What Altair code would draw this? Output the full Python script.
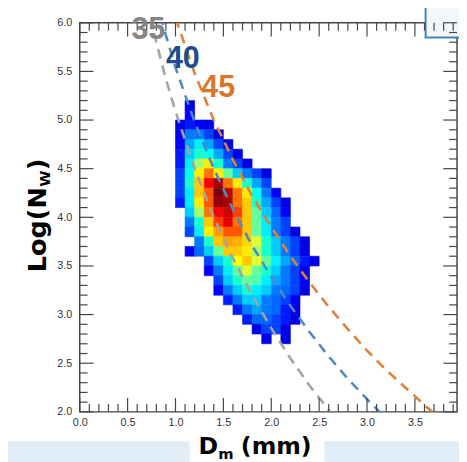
import altair as alt
import pandas as pd

# ---------------- data ----------------
# 2-D histogram: rows of 0.1 log-unit bins, columns of 0.1 mm bins
row_lo = [5.1, 5.0, 4.9, 4.8, 4.7, 4.6, 4.5, 4.4, 4.3, 4.2, 4.1, 4.0, 3.9,
          3.8, 3.7, 3.6, 3.5, 3.4, 3.3, 3.2, 3.1, 3.0, 2.9, 2.8, 2.7]
row_dm_start = [1.1, 1.1, 1.0, 1.0, 1.0, 1.0, 1.0, 1.0, 1.0, 1.0, 1.0, 1.1, 1.1,
                1.1, 1.2, 1.1, 1.3, 1.3, 1.4, 1.4, 1.5, 1.6, 1.7, 1.8, 1.9]
row_counts = [
    [1],
    [1.2],
    [1, 1.3, 1.2, 1],
    [1.2, 2, 2, 1.5, 1],
    [1.2, 2.5, 3.5, 2.5, 1.5, 1],
    [1.3, 3, 4.5, 4, 2.5, 1.5, 1],
    [1.3, 3.5, 5.5, 6.5, 4.5, 2, 1.5, 1],
    [1.5, 4, 6.5, 8, 6.5, 5, 3, 2, 1.5, 1],
    [1.5, 4.5, 7, 8.8, 9.6, 8, 6.5, 4.5, 2.5, 1.5],
    [1.5, 3.5, 7, 8.3, 10, 9.4, 8, 6.5, 4, 2, 1.2],
    [1.3, 3.5, 6.5, 8.3, 9.8, 9.6, 8, 7, 4.5, 2.5, 1.5, 1],
    [3, 5.5, 8, 8.8, 9.2, 8.5, 7, 5, 3, 1.8, 1.2],
    [2, 4.5, 7, 8.5, 9, 8, 7, 5, 3.5, 2, 1.5],
    [1.5, 3.5, 6.5, 7.5, 8.3, 8.3, 7, 5, 3.5, 2, 1.5, 1],
    [2, 4.5, 7, 7.5, 7.3, 6.8, 6, 4.5, 3, 2, 1.5, 1],
    [1.2, 1.8, 3, 5, 7, 7, 6.5, 5.5, 4.5, 3, 2, 1.5, 1],
    [1.5, 3, 4.5, 6.3, 7, 6, 5, 3.5, 2.5, 1.8, 1.3, 1],
    [1.2, 2, 3.5, 5, 6, 5, 4.5, 3, 2, 1.5, 1.2],
    [1.5, 3, 4.5, 5, 4.8, 3.5, 2.5, 2, 1.5, 1.2],
    [1.2, 2, 3, 4.5, 3.5, 3, 2, 1.8, 1.5, 1],
    [1.3, 2, 3, 3, 2, 1.8, 1.5, 1.2],
    [1.3, 2, 2.5, 2, 1.8, 1.3, 1],
    [1.3, 1.8, 1.8, 1.5, 1.3, 1],
    [1, 1.5, 1.5, 1],
    [1, None, 1],
]
bin_w = 0.1

# constant-reflectivity dashed curves (dBZ)
curve_names = ["35", "40", "45"]
dm_35 = [0.70, 0.80, 0.90, 1.00, 1.20, 1.40, 1.60, 1.80, 2.00, 2.20, 2.40, 2.60, 2.70]
nw_35 = [6.23, 5.80, 5.42, 5.09, 4.50, 4.00, 3.58, 3.20, 2.86, 2.55, 2.27, 2.02, 1.89]
dm_40 = [0.80, 0.90, 1.00, 1.20, 1.40, 1.60, 1.80, 2.00, 2.20, 2.40, 2.60, 2.80, 3.00, 3.20]
nw_40 = [6.24, 5.87, 5.54, 4.98, 4.50, 4.08, 3.71, 3.39, 3.09, 2.82, 2.57, 2.34, 2.13, 1.93]
dm_45 = [0.95, 1.00, 1.20, 1.40, 1.60, 1.80, 2.00, 2.20, 2.40, 2.60, 2.80, 3.00, 3.20, 3.40, 3.60, 3.80]
nw_45 = [6.21, 6.05, 5.48, 5.00, 4.59, 4.22, 3.90, 3.60, 3.33, 3.08, 2.85, 2.63, 2.43, 2.25, 2.07, 1.90]
label_dm = [0.54, 0.90, 1.27]
label_nw = [5.83, 5.53, 5.24]

x_ticks = [round(i * 0.1, 1) for i in range(0, 40)]
y_ticks = [round(2.0 + i * 0.1, 1) for i in range(0, 41)]
x_labels = [0.0, 0.5, 1.0, 1.5, 2.0, 2.5, 3.0, 3.5]
y_labels = [2.0, 2.5, 3.0, 3.5, 4.0, 4.5, 5.0, 5.5, 6.0]

# ---------------- tables ----------------
cells = []
for lo, start, vals in zip(row_lo, row_dm_start, row_counts):
    for i, v in enumerate(vals):
        if v is None:
            continue
        x0 = round(start + bin_w * i, 2)
        cells.append({"x0": x0, "x1": round(x0 + bin_w, 2), "y0": lo,
                      "y1": round(lo + bin_w, 2), "val": v})
cells = pd.DataFrame(cells)

curves = pd.concat([
    pd.DataFrame({"dm": dm_35, "nw": nw_35, "c": "35"}),
    pd.DataFrame({"dm": dm_40, "nw": nw_40, "c": "40"}),
    pd.DataFrame({"dm": dm_45, "nw": nw_45, "c": "45"}),
])
labels = pd.DataFrame({"dm": label_dm, "nw": label_nw, "c": curve_names})
xt = pd.DataFrame({"v": x_ticks, "major": [abs(v * 2 - round(v * 2)) < 1e-6 for v in x_ticks]})
yt = pd.DataFrame({"v": y_ticks, "major": [abs(v * 2 - round(v * 2)) < 1e-6 for v in y_ticks]})
one = pd.DataFrame({"k": [0]})

# ---------------- scales ----------------
W, H = 384, 396
xs = alt.Scale(domain=[0, 3.94], nice=False, zero=False)
ys = alt.Scale(domain=[2, 6], nice=False, zero=False)
x_axis = alt.Axis(values=x_labels, format=".1f", title=None, ticks=False, domain=False,
                  grid=False, labelPadding=5, labelFlush=False)
y_axis = alt.Axis(values=y_labels, format=".1f", title=None, ticks=False, domain=False,
                  grid=False, labelPadding=8, labelFlush=False)


def X(f):
    return alt.X(f, type="quantitative", scale=xs, axis=x_axis)


def Y(f):
    return alt.Y(f, type="quantitative", scale=ys, axis=y_axis)


jet = alt.Scale(domain=[0, 1.25, 3.75, 6.25, 8.75, 10],
                range=["#00007f", "#0000ff", "#00ffff", "#ffff00", "#ff0000", "#7f0000"])
curve_col = alt.Scale(domain=curve_names, range=["#a3a3a3", "#4f88c6", "#e0803a"])
label_col = alt.Scale(domain=curve_names, range=["#858585", "#1d4d8c", "#d8762a"])

BG = "#e1eef8"
TK = "#444444"

# ---------------- layers ----------------
band_l = alt.Chart(one).mark_rect(color=BG).encode(
    x=alt.value(-73), x2=alt.value(112), y=alt.value(426), y2=alt.value(450))
band_r = alt.Chart(one).mark_rect(color=BG).encode(
    x=alt.value(249), x2=alt.value(400), y=alt.value(426), y2=alt.value(450))
box = alt.Chart(one).mark_rect(fill="#f3f7fb", stroke="#3d85b8", strokeWidth=2).encode(
    x=alt.value(352), x2=alt.value(420), y=alt.value(-30), y2=alt.value(15))

heat = alt.Chart(cells).mark_rect(strokeWidth=0.6).encode(
    x=X("x0"), x2="x1", y=Y("y0"), y2="y1",
    color=alt.Color("val:Q", scale=jet, legend=None),
    stroke=alt.Stroke("val:Q", scale=jet, legend=None),
)

lines = alt.Chart(curves).mark_line(strokeDash=[10, 7], strokeWidth=2.6, clip=True).encode(
    x=X("dm"), y=Y("nw"),
    color=alt.Color("c:N", scale=curve_col, legend=None),
    detail="c:N",
)

lbl = alt.Chart(labels).mark_text(font="Liberation Sans", fontWeight="bold", fontSize=31,
                                  align="left", baseline="alphabetic").encode(
    x=X("dm"), y=Y("nw"), text="c:N",
    color=alt.Color("c:N", scale=label_col, legend=None),
)


def xtick(major, top):
    L = 14 if major else 8
    y0, y1 = (0, L) if top else (H, H - L)
    return alt.Chart(xt).transform_filter(
        alt.datum.major == major).mark_rule(color=TK, strokeWidth=1.2).encode(
        x=X("v"), y=alt.value(y0), y2=alt.value(y1))


def ytick(major, right):
    L = 14 if major else 8
    x0, x1 = (W, W - L) if right else (0, L)
    return alt.Chart(yt).transform_filter(
        alt.datum.major == major).mark_rule(color=TK, strokeWidth=1.2).encode(
        y=Y("v"), x=alt.value(x0), x2=alt.value(x1))


ticks = [xtick(m, t) for m in (True, False) for t in (True, False)] + \
        [ytick(m, r) for m in (True, False) for r in (True, False)]

TF = "DejaVu Sans"
yt1 = alt.Chart(one).mark_text(text="Log(N", font=TF, fontWeight="bold", fontSize=26,
                               angle=270, align="left", baseline="alphabetic", color="#000").encode(
    x=alt.value(-34), y=alt.value(254))
yt2 = alt.Chart(one).mark_text(text="W", font=TF, fontWeight="bold", fontSize=15,
                               angle=270, align="left", baseline="alphabetic", color="#000").encode(
    x=alt.value(-30), y=alt.value(254 - 87))
yt3 = alt.Chart(one).mark_text(text=")", font=TF, fontWeight="bold", fontSize=26,
                               angle=270, align="left", baseline="alphabetic", color="#000").encode(
    x=alt.value(-34), y=alt.value(254 - 87 - 17))

xt1 = alt.Chart(one).mark_text(text="D", font=TF, fontWeight="bold", fontSize=24,
                               align="left", baseline="alphabetic", color="#000").encode(
    x=alt.value(121), y=alt.value(439))
xt2 = alt.Chart(one).mark_text(text="m", font=TF, fontWeight="bold", fontSize=15,
                               align="left", baseline="alphabetic", color="#000").encode(
    x=alt.value(141), y=alt.value(444))
xt3 = alt.Chart(one).mark_text(text="(mm)", font=TF, fontWeight="bold", fontSize=24,
                               align="left", baseline="alphabetic", color="#000").encode(
    x=alt.value(164), y=alt.value(439))

chart = alt.layer(
    band_l, band_r, box, heat, lines, *ticks, lbl, yt1, yt2, yt3, xt1, xt2, xt3
).properties(
    width=W, height=H,
    autosize=alt.AutoSizeParams(type="none"),
    padding={"left": 73, "top": 11, "right": 2, "bottom": 47},
    background="white",
).configure_view(
    stroke=TK, strokeWidth=1.5,
).configure_axis(
    labelFont="Liberation Sans", labelFontSize=11, labelColor="#333333",
)

chart.save("out.html", embed_options={"renderer": "svg", "actions": False})
